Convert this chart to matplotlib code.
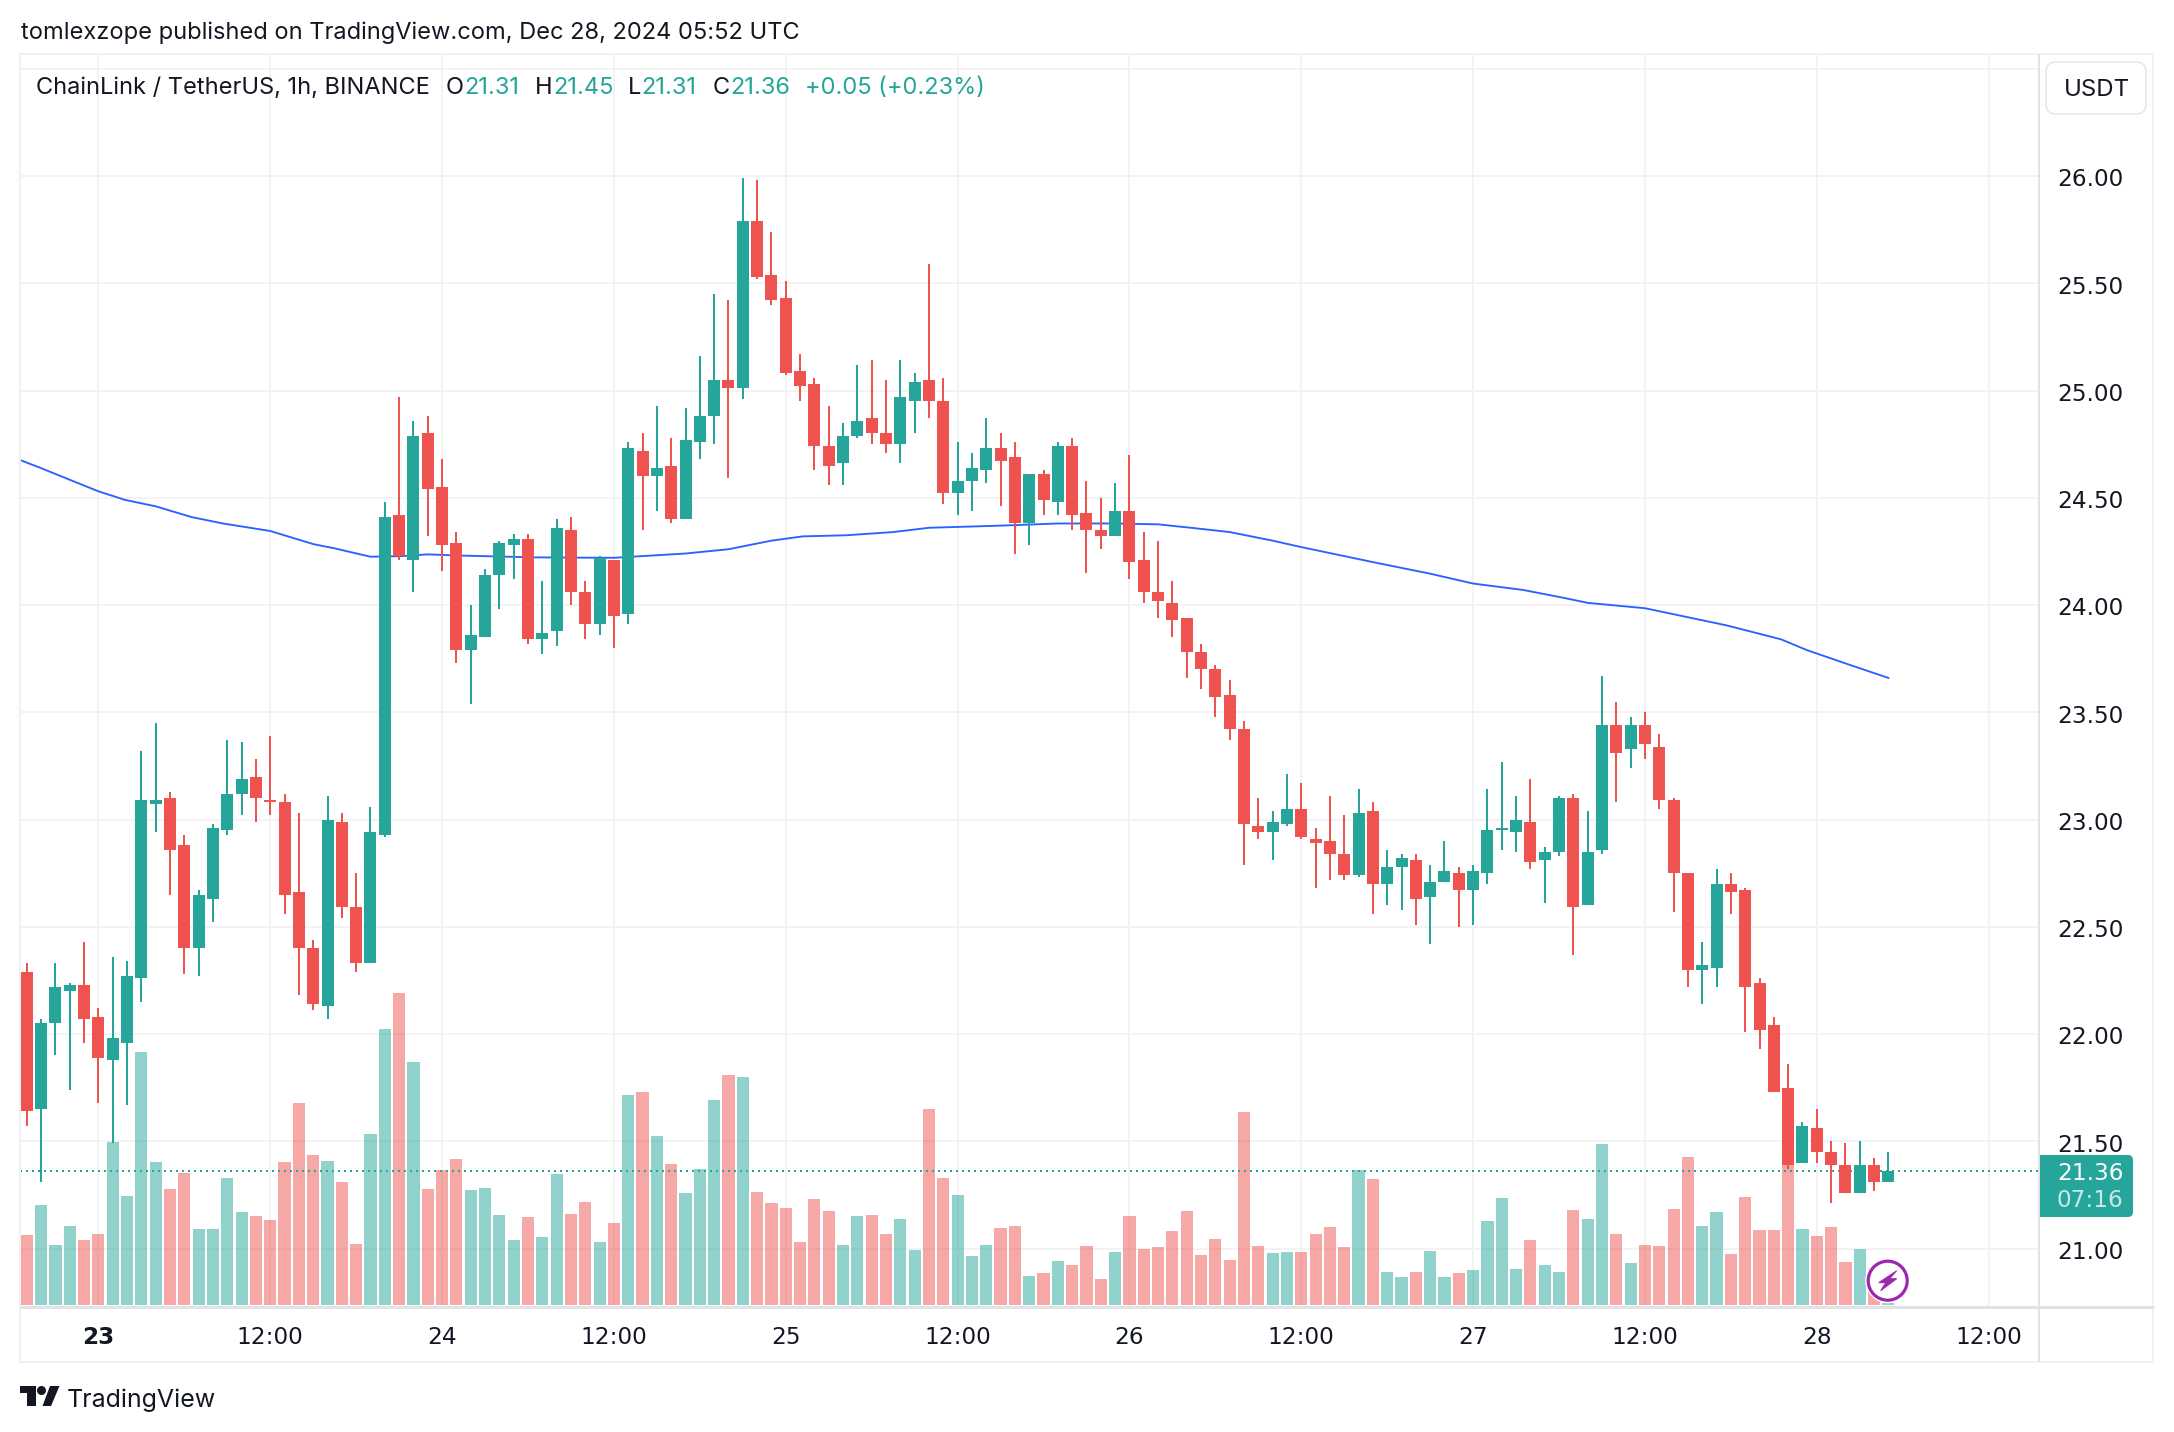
import matplotlib
matplotlib.use("Agg")
import matplotlib.pyplot as plt
from matplotlib.patches import Circle, FancyBboxPatch, Polygon, Rectangle
from matplotlib.lines import Line2D
from matplotlib.transforms import IdentityTransform, ScaledTranslation

W, H = 2174, 1432
plt.rcParams['font.family'] = ['Inter', 'DejaVu Sans']

opens = [22.29,21.65,22.05,22.20,22.23,22.08,21.88,21.96,22.26,23.07,
         23.10,22.88,22.40,22.63,22.95,23.12,23.20,23.09,23.08,22.66,
         22.40,22.13,22.99,22.59,22.33,22.93,24.42,24.21,24.80,24.55,
         24.29,23.79,23.85,24.14,24.28,24.31,23.84,23.88,24.35,24.06,
         23.91,24.21,23.96,24.72,24.60,24.65,24.40,24.76,24.88,25.05,
         25.01,25.79,25.54,25.43,25.09,25.03,24.74,24.66,24.79,24.87,
         24.80,24.75,24.95,25.05,24.95,24.52,24.58,24.63,24.73,24.69,
         24.38,24.61,24.48,24.74,24.43,24.35,24.32,24.44,24.21,24.06,
         24.01,23.94,23.78,23.70,23.58,23.42,22.97,22.94,22.98,23.05,
         22.91,22.90,22.84,22.74,23.04,22.70,22.78,22.81,22.64,22.71,
         22.75,22.67,22.75,22.95,22.94,22.99,22.81,22.85,23.10,22.60,
         22.86,23.44,23.33,23.44,23.34,23.09,22.75,22.30,22.31,22.70,
         22.67,22.24,22.04,21.75,21.40,21.56,21.45,21.39,21.26,21.39,21.31]
highs = [22.33,22.07,22.33,22.24,22.43,22.12,22.36,22.34,23.32,23.45,
         23.13,22.93,22.67,22.98,23.37,23.36,23.28,23.39,23.12,23.03,
         22.44,23.11,23.03,22.75,23.06,24.48,24.97,24.86,24.88,24.68,
         24.34,24.00,24.17,24.30,24.33,24.33,24.11,24.40,24.41,24.11,
         24.23,24.21,24.76,24.80,24.93,24.78,24.92,25.16,25.45,25.42,
         25.99,25.98,25.74,25.51,25.17,25.06,24.93,24.85,25.12,25.14,
         25.05,25.14,25.08,25.59,25.06,24.76,24.71,24.87,24.80,24.76,
         24.61,24.63,24.76,24.78,24.58,24.50,24.57,24.70,24.34,24.30,
         24.11,23.94,23.82,23.72,23.65,23.46,23.10,23.04,23.21,23.17,
         22.96,23.11,23.02,23.14,23.08,22.86,22.84,22.84,22.79,22.90,
         22.78,22.79,23.14,23.27,23.11,23.19,22.87,23.11,23.12,23.04,
         23.67,23.55,23.48,23.50,23.40,23.10,22.75,22.43,22.77,22.75,
         22.68,22.26,22.08,21.86,21.59,21.65,21.50,21.49,21.50,21.42,21.45]
lows = [21.57,21.31,21.90,21.74,21.96,21.68,21.49,21.67,22.15,22.94,
        22.65,22.28,22.27,22.52,22.93,23.02,22.99,23.02,22.56,22.18,
        22.11,22.07,22.54,22.29,22.33,22.92,24.21,24.06,24.32,24.16,
        23.73,23.54,23.85,23.98,24.12,23.82,23.77,23.81,24.00,23.84,
        23.86,23.80,23.91,24.35,24.44,24.38,24.40,24.68,24.75,24.59,
        24.96,25.52,25.40,25.07,24.95,24.63,24.56,24.56,24.78,24.75,
        24.71,24.66,24.80,24.87,24.47,24.42,24.44,24.57,24.46,24.24,
        24.28,24.42,24.42,24.35,24.15,24.26,24.32,24.12,24.01,23.94,
        23.85,23.66,23.61,23.48,23.37,22.79,22.91,22.81,22.97,22.91,
        22.68,22.72,22.72,22.73,22.56,22.60,22.58,22.51,22.42,22.71,
        22.50,22.51,22.70,22.86,22.85,22.77,22.61,22.83,22.37,22.60,
        22.84,23.08,23.24,23.28,23.05,22.57,22.22,22.14,22.22,22.56,
        22.01,21.93,21.73,21.37,21.40,21.40,21.21,21.26,21.26,21.27,21.31]
closes = [21.64,22.05,22.22,22.23,22.07,21.89,21.98,22.27,23.09,23.09,
          22.86,22.40,22.65,22.96,23.12,23.19,23.10,23.08,22.65,22.40,
          22.14,23.00,22.59,22.33,22.94,24.41,24.23,24.79,24.54,24.28,
          23.79,23.86,24.14,24.29,24.31,23.84,23.87,24.36,24.06,23.91,
          24.22,23.95,24.73,24.60,24.64,24.40,24.77,24.88,25.05,25.01,
          25.79,25.53,25.42,25.08,25.02,24.74,24.65,24.79,24.86,24.80,
          24.75,24.97,25.04,24.95,24.52,24.58,24.64,24.73,24.67,24.38,
          24.61,24.49,24.74,24.42,24.35,24.32,24.44,24.20,24.06,24.02,
          23.93,23.78,23.70,23.57,23.42,22.98,22.94,22.99,23.05,22.92,
          22.89,22.84,22.74,23.03,22.70,22.78,22.82,22.63,22.71,22.76,
          22.67,22.76,22.95,22.96,23.00,22.80,22.85,23.10,22.59,22.85,
          23.44,23.31,23.44,23.35,23.09,22.75,22.30,22.32,22.70,22.66,
          22.22,22.02,21.73,21.39,21.57,21.45,21.39,21.26,21.39,21.31,21.36]
volumes = [70,100,60,79,65,71,163,109,253,143,
           116,132,76,76,127,93,89,85,143,202,
           150,144,123,61,171,276,312,243,116,135,
           146,115,117,90,65,88,68,131,91,103,
           63,82,210,213,169,141,112,136,205,230,
           228,113,102,97,63,106,94,60,89,90,
           71,86,55,196,127,110,49,60,77,79,
           29,32,44,40,59,26,53,89,56,58,
           74,94,50,66,45,193,59,52,53,53,
           71,78,58,135,126,33,28,33,54,28,
           32,35,84,107,36,65,40,33,95,86,
           161,71,42,60,59,96,148,79,93,51,
           108,75,75,143,76,69,78,43,56,37,2]

ma_bars = [-0.47,0.92,5,6.86,9,11.5,13.7,17,20,21.5,24,26.2,28,30.5,35.5,41,46,49,52,
           54.2,57.2,60.5,63,68,72,76,79,81.3,84,87,89,94,98,101,104.5,107.2,109,113,
           118.7,122.5,124.3,126.9,130]
ma_vals = [24.676,24.64,24.53,24.49,24.46,24.41,24.38,24.345,24.284,24.264,24.225,24.228,
           24.236,24.23,24.222,24.22,24.24,24.26,24.30,24.32,24.325,24.34,24.36,24.37,
           24.38,24.38,24.376,24.36,24.34,24.30,24.27,24.20,24.146,24.10,24.07,24.035,
           24.01,23.985,23.905,23.84,23.79,23.73,23.66]

price_ticks = [21.0,21.5,22.0,22.5,23.0,23.5,24.0,24.5,25.0,25.5,26.0,26.5]
price_labels = ['21.00','21.50','22.00','22.50','23.00','23.50','24.00','24.50','25.00','25.50','26.00','']
time_ticks = [5,17,29,41,53,65,77,89,101,113,125,137]
time_labels = ['23','12:00','24','12:00','25','12:00','26','12:00','27','12:00','28','12:00']

GREEN = '#26A69A'; RED = '#EF5350'; INK = '#131722'; GRID = '#F3F3F4'
SEP = '#E1E2E5'; FRAME = '#F0F1F6'; BLUE = '#2962FF'; PURPLE = '#9C27B0'
SCALE_FONT = 'DejaVu Sans'
SCALE_SIZE = 16.7
TXT = 17.0

fig = plt.figure(figsize=(W/100, H/100), dpi=100, facecolor='white')
L, R, T, B = 20, 2039, 54, 1306
ax = fig.add_axes([L/W, 1-B/H, (R-L)/W, (B-T)/H])
step = 14.32
first = 26.8
xlim = ((L-first)/step, (R-first)/step)
ppx = 214.5
ylim = (21-(B-1248.5)/ppx, 21+(1248.5-T)/ppx)

# volume layer
axv = ax.twinx()
axv.set_zorder(2); axv.patch.set_visible(False)
axv.set_ylim(-1, B-T-1); axv.yaxis.set_visible(False)
for s in axv.spines.values():
    s.set_visible(False)

# candle layer
axc = ax.twinx()
axc.set_zorder(3); axc.patch.set_visible(False)
axc.set_ylim(ylim); axc.yaxis.set_visible(False)
for s in axc.spines.values():
    s.set_visible(False)

# base axes: grid and scale labels
ax.set_xlim(xlim); ax.set_ylim(ylim)
ax.yaxis.tick_right()
ax.yaxis.set_label_position('right')
ax.set_yticks(price_ticks, price_labels, fontfamily=SCALE_FONT)
ax.set_xticks(time_ticks, time_labels, fontfamily=SCALE_FONT)
ax.tick_params(axis='y', length=0, pad=13, labelsize=SCALE_SIZE, labelcolor=INK, left=False, labelleft=False,
               right=False, labelright=True)
ax.tick_params(axis='x', length=0, pad=22.5, labelsize=SCALE_SIZE, labelcolor=INK)
for t in ax.get_xticklabels():
    t.set_va('center')
ax.get_xticklabels()[0].set_fontweight('bold')
nudge = ScaledTranslation(0, -1.3/100, fig.dpi_scale_trans)
for t in ax.get_yticklabels():
    t.set_transform(t.get_transform() + nudge)
ax.grid(True, color=GRID, linewidth=1.44)
ax.set_axisbelow(True)
for s in ax.spines.values():
    s.set_visible(False)

xs = list(range(len(closes)))
colors = [GREEN if c >= o else RED for o, c in zip(opens, closes)]
axv.bar(xs, volumes, width=0.85, color=colors, alpha=0.5, linewidth=0)
axv.set_xlim(xlim)

axc.plot(ma_bars, ma_vals, color=BLUE, linewidth=1.35, zorder=1, clip_on=True)
axc.axhline(closes[-1], color=GREEN, linewidth=1.44, linestyle=(0, (1, 2)), dash_capstyle='butt', zorder=1.5)
axc.vlines(xs, lows, highs, colors=colors, linewidth=1.44, zorder=2)
axc.bar(xs, [abs(c-o) for o, c in zip(opens, closes)], bottom=[min(o, c) for o, c in zip(opens, closes)],
        width=0.84, color=colors, linewidth=0, zorder=3)
axc.set_xlim(xlim)


def P(x, y):
    return (x, H-y)


ident = IdentityTransform()


def add(artist):
    artist.set_transform(ident)
    fig.add_artist(artist)
    artist.set_transform(ident)
    return artist


def hline(x0, x1, y, c, lw=2):
    fig.add_artist(Line2D([x0/W, x1/W], [1-y/H, 1-y/H], color=c, linewidth=lw*0.72, solid_capstyle='butt', zorder=4))


def vline(x, y0, y1, c, lw=2):
    fig.add_artist(Line2D([x/W, x/W], [1-y0/H, 1-y1/H], color=c, linewidth=lw*0.72, solid_capstyle='butt', zorder=4))


# frame
hline(L-1, 2154, T, FRAME)
hline(L-1, 2154, 1362, FRAME)
vline(L, T, 1362, FRAME)
vline(2153, T, 1362, FRAME)
vline(2039, T, 1362, SEP)
hline(L, 2154, 1307, SEP, 3)


def txt(x, y, s, color=INK, size=TXT, **kw):
    return fig.text(x/W, 1-y/H, s, color=color, fontsize=size, va='baseline', zorder=7, **kw)


# header and legend
txt(21, 39.5, 'tomlexzope published on TradingView.com, Dec 28, 2024 05:52 UTC')
txt(36, 94, 'ChainLink / TetherUS, 1h, BINANCE')
for x, s, c in [(446, 'O', INK), (464, '21.31', GREEN), (535, 'H', INK), (553, '21.45', GREEN),
                (628, 'L', INK), (641, '21.31', GREEN), (713, 'C', INK), (730, '21.36', GREEN),
                (805, '+0.05 (+0.23%)', GREEN)]:
    txt(x, 94, s, color=c)

# currency button
add(FancyBboxPatch(P(2054, 106), 84, 36, boxstyle='round,pad=8,rounding_size=10', fc='white', ec=SEP,
                   lw=0.9, zorder=6))
fig.text(2096.5/W, 1-89.5/H, 'USDT', color=INK, fontsize=17.3, ha='center', va='center', zorder=7)

# last price tag
add(FancyBboxPatch(P(2040, 1217), 93, 62, boxstyle='round,pad=0,rounding_size=5', fc=GREEN, ec='none', zorder=6))
add(Rectangle(P(2040, 1217), 20, 62, fc=GREEN, ec='none', zorder=6))
fig.text(2057/W, 1-1173.3/H, f'{closes[-1]:.2f}', color='white', fontsize=SCALE_SIZE, fontfamily=SCALE_FONT,
         va='center', zorder=7)
fig.text(2057/W, 1-1200.8/H, '07:16', color='white', alpha=0.75, fontsize=SCALE_SIZE, fontfamily=SCALE_FONT,
         va='center', zorder=7)

# lightning badge
cx, cy = 1887.7, 1280.7
add(Circle(P(cx, cy), 22.5, fc='white', ec='none', zorder=6))
add(Circle(P(cx, cy), 19.5, fc='white', ec=PURPLE, lw=2.3, zorder=6))
add(Polygon([P(cx+9, cy-10), P(cx-9, cy+2), P(cx-2, cy+2), P(cx-7, cy+10), P(cx+9, cy-2), P(cx+2, cy-2)],
            closed=True, fc=PURPLE, ec=PURPLE, lw=0.7, zorder=7))

# TradingView logo
add(Polygon([P(20, 1386), P(36, 1386), P(36, 1406), P(27, 1406), P(27, 1392.5), P(20, 1392.5)],
            closed=True, fc=INK, ec='none', zorder=6))
add(Circle(P(41.5, 1390.5), 4.5, fc=INK, ec='none', zorder=6))
add(Polygon([P(50, 1386), P(59.5, 1386), P(51, 1406), P(42.5, 1406)], closed=True, fc=INK, ec='none', zorder=6))
txt(67, 1406.5, 'TradingView', size=18.0)

fig.savefig('out.png', dpi=100, facecolor='white')
